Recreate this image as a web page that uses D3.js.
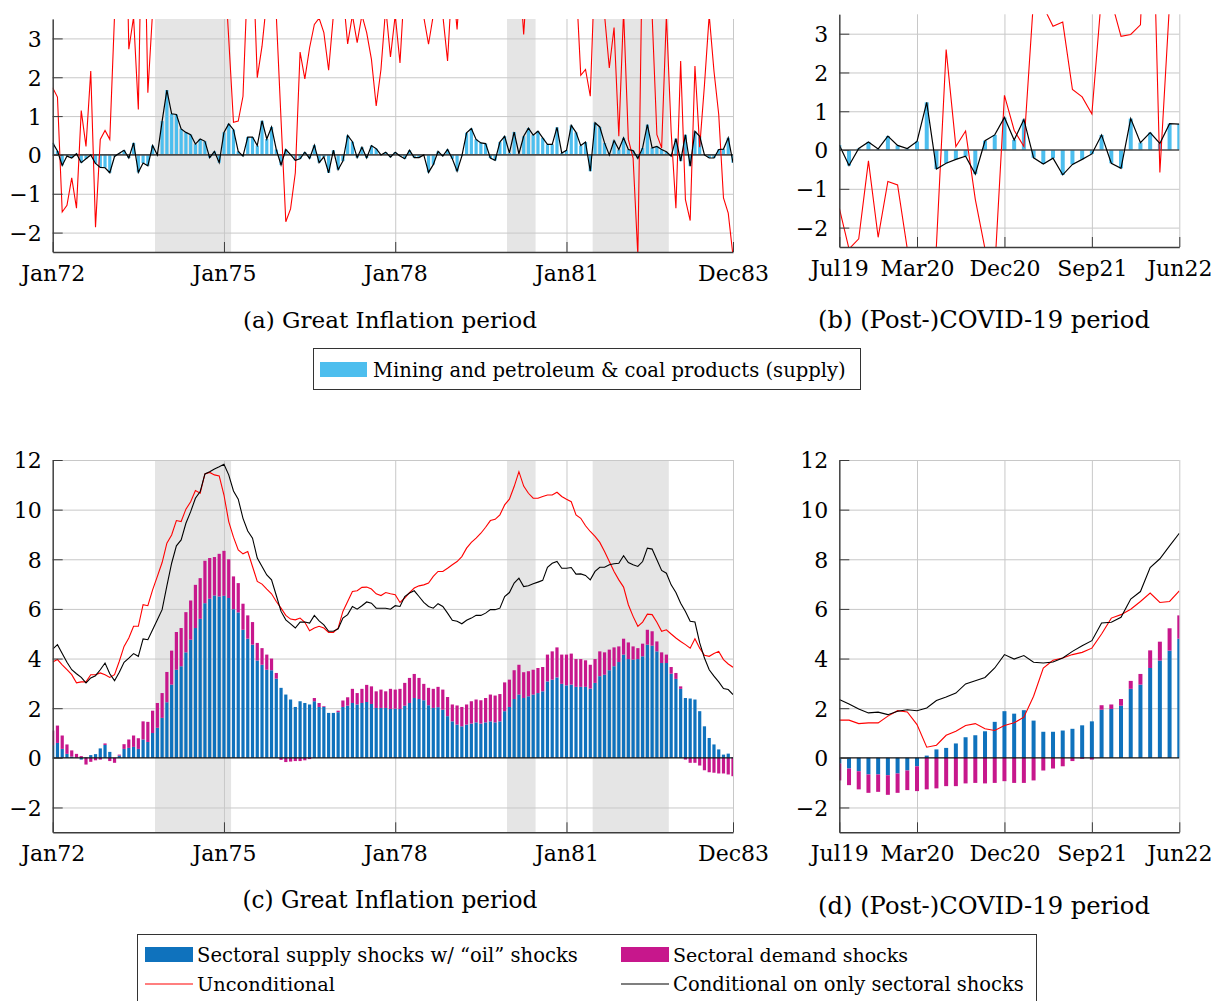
<!DOCTYPE html>
<html><head><meta charset="utf-8">
<script src="https://cdn.jsdelivr.net/npm/d3@7"></script>
<style>
body{margin:0;background:#fff}
svg{display:block;background:#fff}
text{font-family:"DejaVu Serif",serif;fill:#000}
</style>
</head><body>
<svg id="chart" width="1216" height="1001"></svg>
<script>
// ---------------- DATA ----------------
const ginfStart = new Date(1972, 0, 1);
const ginfMonths = d3.timeMonth.range(new Date(1972, 0, 1), new Date(1984, 0, 1)); // Jan72..Dec83
const covidStart = new Date(2019, 6, 1);
const covidMonths = d3.timeMonth.range(new Date(2019, 6, 1), new Date(2022, 6, 1)); // Jul19..Jun22

const ginfTickDates = [new Date(1972,0,1), new Date(1975,0,1), new Date(1978,0,1), new Date(1981,0,1), new Date(1983,11,1)];
const ginfTickLabels = ["Jan72", "Jan75", "Jan78", "Jan81", "Dec83"];
const covidTickDates = [new Date(2019,6,1), new Date(2020,2,1), new Date(2020,11,1), new Date(2021,8,1), new Date(2022,5,1)];
const covidTickLabels = ["Jul19", "Mar20", "Dec20", "Sep21", "Jun22"];

const recessions = [
  [new Date(1973,10,1), new Date(1975,2,1)],
  [new Date(1980,0,1), new Date(1980,6,1)],
  [new Date(1981,6,1), new Date(1982,10,1)]
];

const topTicks = [-2, -1, 0, 1, 2, 3];
const bottomTicks = [-2, 0, 2, 4, 6, 8, 10, 12];

// (a) Mining and petroleum & coal products (supply), Great Inflation
const ginfOil = [
  0.31,0.1,-0.27,-0.03,-0.08,0.03,-0.2,-0.1,0,-0.22,
  -0.32,-0.33,-0.46,-0.04,0.04,0.12,-0.08,0.31,-0.45,-0.21,
  -0.28,0.24,0,0.87,1.67,1.06,1.04,0.67,0.58,0.52,
  0.28,0.41,0.35,-0.07,0.09,-0.2,0.58,0.8,0.65,0.09,
  -0.03,0.46,0.46,0.24,0.88,0.41,0.72,0.14,-0.26,0.14,
  0.01,-0.14,-0.1,0.07,-0.09,0.25,-0.2,-0.05,-0.46,0.12,
  -0.38,-0.16,0.5,0.34,-0.07,0.2,-0.08,0.24,0.16,0,
  0.07,-0.06,0.07,-0.03,-0.1,0.12,-0.07,-0.07,0,-0.45,
  -0.25,0.09,-0.03,0.14,-0.1,-0.42,-0.03,0.57,0.68,0.4,
  0.31,0.29,-0.08,-0.14,0.33,0.48,0.05,0.59,0.03,0.48,
  0.69,0.51,0.61,0.44,0.27,0.27,0.71,0.05,0.12,0.76,
  0.58,0.24,0.33,-0.42,0.83,0.72,0.31,0,0.37,0.14,
  0.44,0.14,0.11,-0.09,0.18,0.78,0.18,0.22,0.14,0.08,
  -0.03,0.42,-0.16,0.52,-0.29,0.61,0.48,0,-0.08,-0.08,
  0.14,0.15,0.44,-0.2
];
// (a) Unconditional (red), largely above the visible range
const ginfOilUncond = [
  1.73,1.49,-1.47,-1.3,-0.59,-1.37,1.14,0.22,2.16,-1.86,
  0.4,0.63,0.4,3.6,7,9,2.72,3.55,1.17,8,
  1.6,3.7,6,8,9,8.5,7.5,8,9,7,
  8,9,8,7,8,9,5.1,3.0,0.84,0.87,
  1.51,4.7,5.4,1.99,2.8,4.0,6,3.6,0.9,-1.72,
  -1.39,-0.46,2.65,1.96,2.76,3.36,3.52,3.15,2.18,3.6,
  4.5,4.2,2.86,3.6,2.89,3.6,3.15,2.46,1.26,2.2,
  3.8,2.52,3.6,2.37,4.5,5.5,6,5,3.55,2.85,
  3.6,5,3.6,2.42,4.6,3.23,5,6,7,6,
  7,8,7,6,7,8,7,6,5,3.1,
  5,6,7,6,7,8,7,6,7,6,
  4.5,2.05,2.2,1.51,5,6,3.6,2.24,3.28,0.48,
  3.7,0.4,-0.08,-2.6,5.8,6.5,3.6,0.52,0.18,3.6,
  0.6,-1.37,2.42,-1.15,-1.69,2.29,0.2,1.8,3.6,2.16,
  1.04,-1.11,-1.5,-2.6
];

// (b) Mining and petroleum & coal products (supply), COVID
const covidOil = [
  0.13,-0.4,0.04,0.21,0.03,0.36,0.12,0.04,0.22,1.23,
  -0.49,-0.34,-0.24,-0.16,-0.62,0.24,0.39,0.84,0.26,0.79,
  -0.2,-0.36,-0.21,-0.64,-0.37,-0.24,-0.1,0.39,-0.34,-0.47,
  0.81,0.19,0.45,0.17,0.68,0.67
];
const covidOilUncond = [
  -1.5,-2.55,-2.29,-0.28,-2.25,-0.81,-0.9,-2.55,-5,-6,
  -2.45,2.59,0.09,0.49,-1.27,-2.55,-3.1,1.41,0.51,0.09,
  3.9,3.7,3.19,3.3,1.56,1.37,0.93,4.0,3.85,2.93,
  2.98,3.23,9,-0.58,3.8,5
];

// (c) Great Inflation decomposition
const ginfSupply = [
  0.51,0.6,0.36,0.16,0.05,0.01,-0.07,0.02,0.11,0.15,
  0.38,0.52,0.24,0,0.09,0.36,0.4,0.44,0.36,0.74,
  0.64,1.0,1.21,1.61,2.24,2.95,3.55,3.69,4.25,4.76,
  5.23,5.6,6.23,6.41,6.54,6.5,6.53,6.44,5.99,5.86,
  5.16,4.8,4.56,3.92,3.75,3.55,3.53,3.19,2.82,2.55,
  2.35,2.05,2.28,2.21,2.15,2.28,2.05,2.05,1.81,1.81,
  1.84,2.05,2.1,2.21,2.15,2.21,2.25,2.17,2.01,2.01,
  2.01,1.97,1.98,1.97,2.1,2.21,2.41,2.37,2.32,2.12,
  2.01,2.04,1.94,1.68,1.47,1.34,1.27,1.34,1.38,1.43,
  1.38,1.43,1.47,1.43,1.47,1.88,2.05,2.37,2.55,2.41,
  2.48,2.55,2.61,2.68,3.08,3.15,3.24,2.98,2.92,2.95,
  2.86,2.86,2.86,2.79,3.02,3.29,3.35,3.53,3.69,3.86,
  4.16,3.98,3.96,3.98,4.09,4.56,4.52,4.29,3.82,3.82,
  3.39,3.18,2.78,2.41,2.39,2.35,1.88,1.27,0.8,0.54,
  0.34,0.13,0.17,0.02
];
const ginfDemand = [
  0.59,0.7,0.54,0.38,0.25,0.15,0.07,-0.27,-0.16,-0.1,
  -0.07,0.06,-0.13,-0.2,0.04,0.19,0.34,0.46,0.43,0.73,
  0.81,0.9,1.0,1.0,1.22,1.37,1.52,1.54,1.62,1.58,
  1.74,1.64,1.71,1.64,1.55,1.72,1.81,1.56,1.32,1.18,
  1.05,0.94,0.91,0.71,0.67,0.61,0.47,0.23,-0.08,-0.17,
  -0.15,-0.13,-0.13,-0.1,-0.05,0.13,0.16,0.03,0,0,
  0.06,0.26,0.34,0.57,0.46,0.57,0.69,0.71,0.67,0.74,
  0.67,0.81,0.77,0.81,0.92,1.01,0.97,0.85,0.66,0.7,
  0.77,0.82,0.81,0.77,0.68,0.77,0.78,0.81,0.9,0.92,
  0.94,0.98,1.08,1.08,1.1,1.16,1.1,1.16,1.2,1.04,
  1.01,1.0,1.01,0.98,1.08,1.14,1.21,1.18,1.24,1.25,
  1.12,1.12,1.07,0.96,0.96,1.0,0.9,0.83,0.76,0.63,
  0.64,0.67,0.53,0.44,0.51,0.6,0.58,0.4,0.43,0.34,
  0.27,0.24,0.1,-0.07,-0.2,-0.2,-0.31,-0.5,-0.58,-0.6,
  -0.63,-0.63,-0.67,-0.74
];
const ginfUncond = [
  3.86,3.96,3.75,3.55,3.35,3.02,3.06,3.06,3.35,3.35,
  3.42,3.35,3.24,3.35,3.89,4.49,4.83,5.3,5.3,6.17,
  6.13,6.77,7.31,7.87,8.65,8.98,9.56,9.52,10.02,10.32,
  10.77,10.66,11.44,11.5,11.4,11.36,10.59,9.52,8.89,8.38,
  8.22,8.31,7.71,7.11,7.0,6.8,6.61,6.3,6.03,5.74,
  5.59,5.56,5.63,5.46,5.12,5.23,5.3,5.23,5.05,5.05,
  5.23,5.9,6.3,6.7,6.73,6.87,6.88,6.8,6.61,6.54,
  6.66,6.61,6.57,6.26,6.44,6.66,6.84,6.93,6.97,7.04,
  7.31,7.51,7.51,7.64,7.78,7.91,8.11,8.45,8.68,8.85,
  9.05,9.29,9.56,9.61,9.79,10.19,10.42,10.93,11.53,10.95,
  10.66,10.46,10.46,10.53,10.59,10.59,10.7,10.53,10.42,10.32,
  9.79,9.65,9.35,9.12,8.92,8.68,8.31,7.91,7.51,7.17,
  6.88,6.17,5.7,5.3,5.47,5.79,5.77,5.46,5.1,5.16,
  4.99,4.83,4.69,4.56,4.42,4.8,4.42,4.13,4.09,4.2,
  4.29,3.96,3.78,3.65
];
const ginfCond = [
  4.38,4.56,4.2,3.85,3.55,3.39,3.24,3.02,3.22,3.31,
  3.55,3.82,3.39,3.11,3.45,3.85,4.02,4.2,4.09,4.79,
  4.76,5.16,5.56,5.97,6.93,7.84,8.54,8.78,9.45,9.92,
  10.46,10.73,11.44,11.53,11.64,11.73,11.83,11.4,10.75,10.42,
  9.65,9.14,8.85,8.05,7.71,7.37,7.17,6.54,5.9,5.56,
  5.4,5.23,5.47,5.47,5.43,5.74,5.52,5.36,5.1,5.1,
  5.2,5.63,5.77,6.1,5.99,6.13,6.28,6.23,6.03,6.03,
  6.03,5.99,6.13,6.1,6.5,6.64,6.73,6.5,6.26,6.1,
  6.03,6.21,6.1,5.83,5.54,5.5,5.4,5.54,5.63,5.74,
  5.74,5.83,5.97,5.97,6.03,6.5,6.66,7.04,7.24,6.9,
  6.93,7.01,7.08,7.15,7.68,7.84,7.91,7.64,7.64,7.67,
  7.4,7.41,7.35,7.17,7.51,7.68,7.68,7.78,7.82,7.84,
  8.14,7.87,7.78,7.71,7.91,8.45,8.41,7.98,7.55,7.44,
  6.97,6.66,6.23,5.9,5.5,5.47,4.63,4.02,3.55,3.29,
  3.06,2.79,2.75,2.55
];

// (d) COVID decomposition
const covidSupply = [
  -0.23,-0.43,-0.54,-0.67,-0.67,-0.7,-0.63,-0.51,-0.34,0.09,
  0.34,0.4,0.58,0.83,0.91,1.07,1.45,1.88,1.78,1.92,
  1.5,1.05,1.05,1.1,1.17,1.31,1.47,1.94,1.97,2.1,
  2.78,2.95,3.62,3.92,4.32,4.8
];
const covidDemand = [
  -0.68,-0.67,-0.73,-0.74,-0.7,-0.79,-0.78,-0.79,-1.0,-1.27,
  -1.23,-1.14,-1.14,-1.03,-1.01,-1.03,-1.01,-0.94,-1.01,-1.01,
  -0.91,-0.51,-0.43,-0.34,-0.13,-0.04,-0.07,0.18,0.18,0.27,
  0.32,0.43,0.71,0.76,0.9,0.94
];
const covidUncond = [
  1.52,1.52,1.38,1.41,1.41,1.68,1.9,1.85,1.34,0.43,
  0.51,0.91,1.07,1.3,1.38,1.17,1.1,1.3,1.41,1.64,
  2.48,3.62,3.93,4.02,4.16,4.25,4.42,4.99,5.63,5.77,
  5.99,6.3,6.64,6.26,6.3,6.73
];
const covidCond = [
  2.35,2.17,1.97,1.81,1.84,1.74,1.88,1.94,1.9,2.01,
  2.31,2.45,2.61,2.98,3.11,3.24,3.62,4.16,3.98,4.12,
  3.85,3.82,3.86,4.02,4.29,4.52,4.72,5.43,5.46,5.66,
  6.4,6.7,7.67,8.02,8.54,9.05
];

// ---------------- DRAWING ----------------
const COL = {
  light: "#4dbeee", supply: "#0f72bd", demand: "#c7178c",
  red: "#ff0000", black: "#000000", grid: "#c8c8c8", axis: "#3c3c3c", shade: "#e5e5e5"
};
const svg = d3.select("#chart");
svg.append("rect").attr("width",1216).attr("height",1001).attr("fill","#fff");

const fmt = v => v < 0 ? "\u2212" + Math.abs(v) : String(v);

function panel(cfg) {
  const {name, L, R, T, B, dates, start, ydom, yticks, tickDates, tickLabels, bw} = cfg;
  const n = dates.length;
  const idx = d => d3.timeMonth.count(start, d);
  const x = d3.scaleLinear().domain([0, n - 1]).range([L, R]);
  const y = d3.scaleLinear().domain(ydom).range([B, T]);
  const g = svg.append("g");
  const cid = "clip-" + name;
  svg.append("clipPath").attr("id", cid).append("rect")
    .attr("x", L).attr("y", T).attr("width", R - L).attr("height", B - T);

  if (cfg.rec) {
    const hw = (x(1) - x(0)) / 2;
    g.append("g").selectAll("rect").data(cfg.rec).join("rect")
      .attr("x", d => x(idx(d[0])) - hw)
      .attr("width", d => x(idx(d[1])) - x(idx(d[0])))
      .attr("y", T).attr("height", B - T).attr("fill", COL.shade);
  }
  const xt = tickDates.map(idx);
  // grid
  g.append("g").attr("transform", `translate(0,${B})`)
    .call(d3.axisBottom(x).tickValues(xt).tickSize(-(B - T)).tickFormat(""))
    .call(s => { s.select(".domain").remove(); s.selectAll("line").attr("stroke", COL.grid).attr("stroke-width", 1); });
  g.append("g").attr("transform", `translate(${L},0)`)
    .call(d3.axisLeft(y).tickValues(yticks.filter(v => v !== 0)).tickSize(-(R - L)).tickFormat(""))
    .call(s => { s.select(".domain").remove(); s.selectAll("line").attr("stroke", COL.grid).attr("stroke-width", 1); });

  const plot = g.append("g").attr("clip-path", `url(#${cid})`);

  if (cfg.single) {
    const vals = cfg.single;
    plot.append("g").selectAll("rect").data(vals).join("rect")
      .attr("x", (d, i) => x(i) - bw / 2).attr("width", bw)
      .attr("y", d => Math.min(y(d), y(0))).attr("height", d => Math.abs(y(d) - y(0)))
      .attr("fill", COL.light);
    plot.append("line").attr("x1", L).attr("x2", R).attr("y1", y(0)).attr("y2", y(0))
      .attr("stroke", "#4a4a4a").attr("stroke-width", 1.6);
    plot.append("path").datum(cfg.redLine)
      .attr("d", d3.line().x((d, i) => x(i)).y(d => y(d)))
      .attr("fill", "none").attr("stroke", COL.red).attr("stroke-width", 1.1);
    plot.append("path").datum(vals)
      .attr("d", d3.line().x((d, i) => x(i)).y(d => y(d)))
      .attr("fill", "none").attr("stroke", COL.black).attr("stroke-width", 1.2);
  } else {
    const rows = cfg.supply.map((s, i) => ({i, supply: s, demand: cfg.demand[i]}));
    const series = d3.stack().keys(["supply", "demand"]).offset(d3.stackOffsetDiverging)(rows);
    plot.append("g").selectAll("g").data(series).join("g")
      .attr("fill", d => d.key === "supply" ? COL.supply : COL.demand)
      .selectAll("rect").data(d => d).join("rect")
      .attr("x", d => x(d.data.i) - bw / 2).attr("width", bw)
      .attr("y", d => y(Math.max(d[0], d[1])))
      .attr("height", d => Math.abs(y(d[0]) - y(d[1])));
    plot.append("line").attr("x1", L).attr("x2", R).attr("y1", y(0)).attr("y2", y(0))
      .attr("stroke", "#111").attr("stroke-width", 1.3);
    plot.append("path").datum(cfg.redLine)
      .attr("d", d3.line().x((d, i) => x(i)).y(d => y(d)))
      .attr("fill", "none").attr("stroke", COL.red).attr("stroke-width", 1.1);
    plot.append("path").datum(cfg.blackLine)
      .attr("d", d3.line().x((d, i) => x(i)).y(d => y(d)))
      .attr("fill", "none").attr("stroke", COL.black).attr("stroke-width", 1.1);
  }

  // axes with inside ticks
  const ax = g.append("g").attr("transform", `translate(0,${B})`)
    .call(d3.axisBottom(x).tickValues(xt).tickSizeInner(-10).tickSizeOuter(0).tickPadding(13)
      .tickFormat((d, i) => tickLabels[i]));
  ax.select(".domain").attr("stroke", COL.axis).attr("stroke-width", 1.4);
  ax.selectAll(".tick line").attr("stroke", COL.axis).attr("stroke-width", 1);
  ax.selectAll("text").attr("font-family", "DejaVu Serif").attr("font-size", 22).attr("fill", "#000");

  const ay = g.append("g").attr("transform", `translate(${L},0)`)
    .call(d3.axisLeft(y).tickValues(yticks).tickSizeInner(-10).tickSizeOuter(0).tickPadding(11).tickFormat(fmt));
  ay.select(".domain").attr("stroke", COL.axis).attr("stroke-width", 1.4);
  ay.selectAll(".tick line").attr("stroke", COL.axis).attr("stroke-width", 1);
  ay.selectAll("text").attr("font-family", "DejaVu Serif").attr("font-size", 22).attr("fill", "#000").attr("dy", "0.36em");

  // caption
  const cap = svg.append("text").attr("x", cfg.capX).attr("y", cfg.capY).attr("text-anchor", "middle").text(cfg.caption);
  fit(cap, cfg.capW);
}

function fit(sel, w) {
  sel.attr("font-size", 20);
  const l = sel.node().getComputedTextLength();
  sel.attr("font-size", (20 * w / l).toFixed(2));
}

panel({name: "a", L: 52.7, R: 733, T: 19, B: 252, dates: ginfMonths, start: ginfStart,
  ydom: [-2.5, 3.5], yticks: topTicks, tickDates: ginfTickDates, tickLabels: ginfTickLabels, bw: 3.2,
  rec: recessions, single: ginfOil, redLine: ginfOilUncond,
  caption: "(a) Great Inflation period", capX: 390, capY: 328, capW: 294});
panel({name: "b", L: 839.3, R: 1179.3, T: 14.3, B: 247, dates: covidMonths, start: covidStart,
  ydom: [-2.5, 3.5], yticks: topTicks, tickDates: covidTickDates, tickLabels: covidTickLabels, bw: 4,
  single: covidOil, redLine: covidOilUncond,
  caption: "(b) (Post-)COVID-19 period", capX: 984, capY: 328, capW: 332});
panel({name: "c", L: 52.7, R: 733, T: 460, B: 832.3, dates: ginfMonths, start: ginfStart,
  ydom: [-3, 12], yticks: bottomTicks, tickDates: ginfTickDates, tickLabels: ginfTickLabels, bw: 3.2,
  rec: recessions, supply: ginfSupply, demand: ginfDemand, redLine: ginfUncond, blackLine: ginfCond,
  caption: "(c) Great Inflation period", capX: 390, capY: 908, capW: 295});
panel({name: "d", L: 839.3, R: 1179.3, T: 460, B: 832.3, dates: covidMonths, start: covidStart,
  ydom: [-3, 12], yticks: bottomTicks, tickDates: covidTickDates, tickLabels: covidTickLabels, bw: 4,
  supply: covidSupply, demand: covidDemand, redLine: covidUncond, blackLine: covidCond,
  caption: "(d) (Post-)COVID-19 period", capX: 984, capY: 914, capW: 332});

// legend 1
const lg1 = svg.append("g");
lg1.append("rect").attr("x", 313.5).attr("y", 348.5).attr("width", 547).attr("height", 41)
  .attr("fill", "#fff").attr("stroke", "#333").attr("stroke-width", 1);
lg1.append("rect").attr("x", 320).attr("y", 362).attr("width", 47).attr("height", 15).attr("fill", COL.light);
fit(lg1.append("text").attr("x", 373).attr("y", 377).text("Mining and petroleum & coal products (supply)"), 473);

// legend 2
const lg2 = svg.append("g");
lg2.append("rect").attr("x", 137.5).attr("y", 934.5).attr("width", 899).attr("height", 80)
  .attr("fill", "#fff").attr("stroke", "#333").attr("stroke-width", 1);
lg2.append("rect").attr("x", 145).attr("y", 947).attr("width", 48).attr("height", 15).attr("fill", COL.supply);
lg2.append("rect").attr("x", 621).attr("y", 947).attr("width", 48).attr("height", 15).attr("fill", COL.demand);
lg2.append("line").attr("x1", 145).attr("x2", 193).attr("y1", 984).attr("y2", 984).attr("stroke", COL.red).attr("stroke-width", 1.2);
lg2.append("line").attr("x1", 621).attr("x2", 669).attr("y1", 984).attr("y2", 984).attr("stroke", COL.black).attr("stroke-width", 1.2);
fit(lg2.append("text").attr("x", 197).attr("y", 962).text("Sectoral supply shocks w/ \u201Coil\u201D shocks"), 381);
fit(lg2.append("text").attr("x", 673).attr("y", 962).text("Sectoral demand shocks"), 235);
fit(lg2.append("text").attr("x", 197).attr("y", 991).text("Unconditional"), 138);
fit(lg2.append("text").attr("x", 673).attr("y", 991).text("Conditional on only sectoral shocks"), 351);
</script>
</body></html>
